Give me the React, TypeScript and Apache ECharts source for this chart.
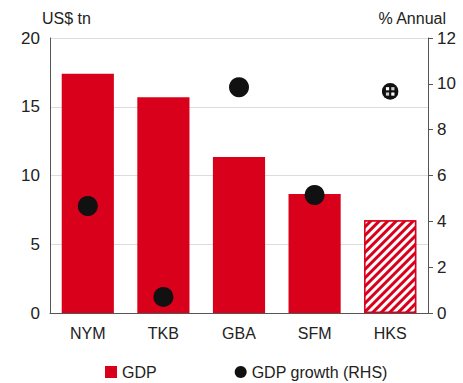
import React, { useEffect, useRef } from "react";
import * as echarts from "echarts";

const categories = ["NYM", "TKB", "GBA", "SFM", "HKS"];
const gdp = [17.4, 15.7, 11.35, 8.65, 6.75];
const growth = [4.67, 0.7, 9.85, 5.15, 9.67];
const leftTicks = [0, 5, 10, 15, 20];
const rightTicks = [0, 2, 4, 6, 8, 10, 12];

const RED = "#d9001b";

const ballSvg =
  '<svg xmlns="http://www.w3.org/2000/svg" width="16" height="16" viewBox="0 0 16 16">' +
  '<circle cx="8" cy="8" r="7.8" fill="#111"/>' +
  '<rect x="4" y="4" width="3" height="3" fill="#fff"/>' +
  '<rect x="9" y="9" width="3" height="3" fill="#fff"/>' +
  '<rect x="9" y="4" width="3" height="3" fill="#ccc"/>' +
  '<rect x="4" y="9" width="3" height="3" fill="#ccc"/>' +
  '<rect x="7" y="7" width="2" height="2" fill="#111"/>' +
  "</svg>";
const ballSymbol = "image://data:image/svg+xml;charset=utf-8," + encodeURIComponent(ballSvg);

export default function App() {
  const ref = useRef<HTMLDivElement>(null);
  useEffect(() => {
    const chart = echarts.init(ref.current!, null, { renderer: "svg" });
    const font = "Liberation Sans, Arial, sans-serif";
    chart.setOption({
      animation: false,
      textStyle: { fontFamily: font },
      grid: { left: 50, right: 35, top: 38, bottom: 70 },
      legend: {
        left: 100,
        top: 359,
        itemGap: 78,
        itemWidth: 12,
        itemHeight: 12,
        textStyle: { fontSize: 16, color: "#222", fontFamily: font },
        data: [
          { name: "GDP", icon: "rect", itemStyle: { color: RED, decal: "none" } },
          { name: "GDP growth (RHS)", icon: "circle", itemStyle: { color: "#111" } },
        ],
      },
      xAxis: {
        type: "category",
        data: categories,
        axisLine: { lineStyle: { color: "#555", width: 1 } },
        axisTick: { show: false },
        axisLabel: { fontSize: 16, color: "#222", margin: 12, fontFamily: font },
      },
      yAxis: [
        {
          type: "value",
          min: 0,
          max: 20,
          interval: 5,
          name: "US$ tn",
          nameLocation: "end",
          nameGap: 12,
          nameTextStyle: { fontSize: 16, color: "#222", align: "left", padding: [0, 0, 0, -8] },
          axisLine: { show: true, lineStyle: { color: "#555" } },
          axisTick: { show: false },
          axisLabel: { fontSize: 17, color: "#222", margin: 10, fontFamily: font,
            formatter: (v: number) => (leftTicks.includes(v) ? String(v) : "") },
          splitLine: { show: true, lineStyle: { color: "#dcdcdc" } },
        },
        {
          type: "value",
          min: 0,
          max: 12,
          interval: 2,
          name: "% Annual",
          nameLocation: "end",
          nameGap: 12,
          nameTextStyle: { fontSize: 16, color: "#222", align: "right", padding: [0, -18, 0, 0] },
          axisLine: { show: true, lineStyle: { color: "#555" } },
          axisTick: { show: true, length: 5, lineStyle: { color: "#555" } },
          axisLabel: { fontSize: 17, color: "#222", margin: 9, fontFamily: font,
            formatter: (v: number) => (rightTicks.includes(v) ? String(v) : "") },
          splitLine: { show: false },
        },
      ],
      series: [
        {
          name: "GDP",
          type: "bar",
          yAxisIndex: 0,
          barWidth: "69%",
          itemStyle: { color: RED },
          data: gdp.map((v, i) =>
            i === 4
              ? {
                  value: v,
                  itemStyle: {
                    color: RED,
                    borderColor: RED,
                    borderWidth: 1.5,
                    decal: {
                      symbol: "rect",
                      color: "#ffffff",
                      dashArrayX: [1, 0],
                      dashArrayY: [2.5, 3],
                      rotation: -Math.PI / 4,
                      symbolSize: 1,
                    },
                  },
                }
              : v
          ),
        },
        {
          name: "GDP growth (RHS)",
          type: "scatter",
          yAxisIndex: 1,
          symbol: "circle",
          symbolSize: 20,
          itemStyle: { color: "#111", opacity: 1 },
          data: growth.map((v, i) =>
            i === 4 ? { value: v, symbol: ballSymbol, symbolSize: 17 } : v
          ),
        },
      ],
    });
    return () => chart.dispose();
  }, []);
  return <div ref={ref} style={{ width: 463, height: 383, position: "absolute", left: 0, top: 0 }} />;
}
